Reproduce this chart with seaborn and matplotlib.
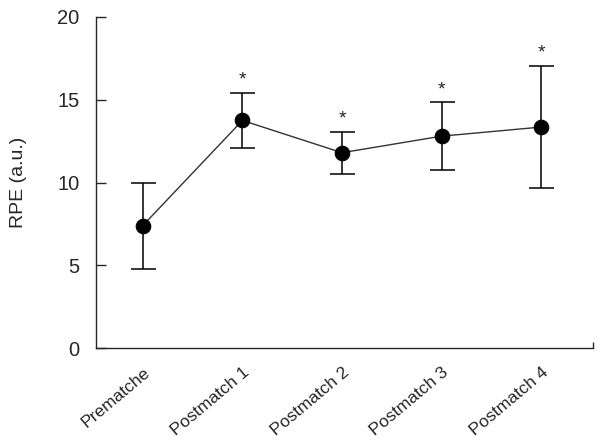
import matplotlib
matplotlib.use("Agg")
import numpy as np
import pandas as pd
import matplotlib.pyplot as plt
import seaborn as sns

# ── Data ───────────────────────────────────────────────
phases = ["Prematche", "Postmatch 1", "Postmatch 2", "Postmatch 3", "Postmatch 4"]
rpe_mean = [7.4, 13.75, 11.8, 12.8, 13.35]
rpe_sd = [2.6, 1.65, 1.27, 2.05, 3.7]
significant = [False, True, True, True, True]

df = pd.DataFrame({"phase": phases, "mean": rpe_mean, "sd": rpe_sd})
df["pos"] = np.arange(len(df))

sns.set_style("ticks")
plt.rcParams["font.family"] = ["Liberation Sans", "DejaVu Sans"]

fig = plt.figure(figsize=(6.03, 4.46), dpi=100)
ax = fig.add_axes([96 / 603, 1 - 348 / 446, (593 - 96) / 603, (348 - 17) / 446])

ax.errorbar(df["pos"], df["mean"], yerr=df["sd"], fmt="none",
            ecolor="black", elinewidth=1.1, capsize=9, capthick=1.1, zorder=2)
sns.lineplot(data=df, x="pos", y="mean", color="#333333", linewidth=1.0,
             marker="o", markersize=10.5, markerfacecolor="black",
             markeredgecolor="black", ax=ax, zorder=3)

# significance marks
for x, m, s, sig in zip(df["pos"], df["mean"], df["sd"], significant):
    if sig:
        ax.annotate("*", (x, m + s), xytext=(0, 3), textcoords="offset points",
                    ha="center", va="bottom", fontsize=14)

ax.set_xlim(-0.47, 4.52)
ax.set_ylim(0, 20)
ax.set_yticks([0, 5, 10, 15, 20])
ax.set_xticks(df["pos"])
ax.set_xticklabels(phases, rotation=40, ha="right", rotation_mode="anchor",
                   fontsize=12.5)
ax.tick_params(axis="x", length=0, pad=12)
ax.tick_params(axis="y", direction="in", length=7.5, width=1, pad=12,
               labelsize=14.5)
# small closing tick at the right end of the x axis
ax.set_xticks([4.52], minor=True)
ax.tick_params(axis="x", which="minor", direction="in", length=4, width=1)

ax.set_xlabel("")
ax.set_ylabel("RPE (a.u.)", fontsize=14, labelpad=22)
sns.despine(ax=ax)
for sp in ["left", "bottom"]:
    ax.spines[sp].set_linewidth(1)

fig.savefig("out.png", dpi=100)
